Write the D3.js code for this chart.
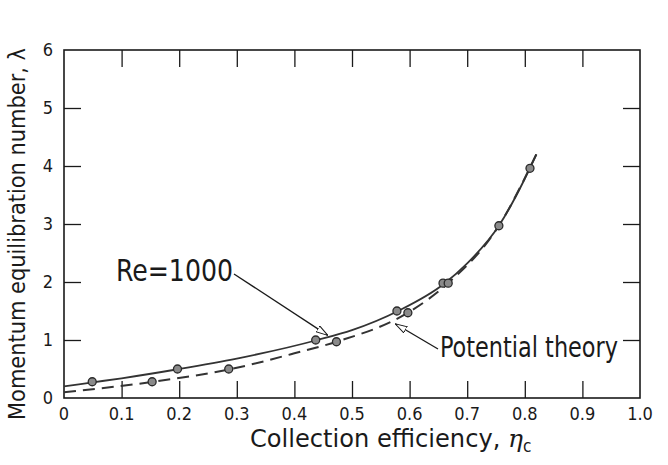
<!DOCTYPE html>
<html><head><meta charset="utf-8">
<script src="https://cdn.jsdelivr.net/npm/d3@7"></script>
<style>html,body{margin:0;padding:0;background:#fff;}svg{display:block;}
text{font-family:"Liberation Sans Narrow","DejaVu Sans Condensed","Liberation Sans",sans-serif;fill:#1a1a1a;}</style>
</head><body>
<svg id="c" width="668" height="465"></svg>
<script>
// ---- data ----
const xTicks = [0,0.1,0.2,0.3,0.4,0.5,0.6,0.7,0.8,0.9,1.0];
const xTickLabels = ["0","0.1","0.2","0.3","0.4","0.5","0.6","0.7","0.8","0.9","1.0"];
const yTicks = [0,1,2,3,4,5,6];
const yTickLabels = ["0","1","2","3","4","5","6"];
// Re = 1000 curve (solid) and its data points
const reCurveX = [0, 0.05, 0.1, 0.2, 0.3, 0.44, 0.5, 0.58, 0.66, 0.7, 0.755, 0.8, 0.82];
const reCurveY = [0.20, 0.27, 0.34, 0.50, 0.68, 1.00, 1.17, 1.50, 1.97, 2.32, 2.97, 3.78, 4.20];
const rePointsX = [0.049, 0.197, 0.437, 0.578, 0.658, 0.755, 0.809];
const rePointsY = [0.28, 0.50, 1.00, 1.50, 1.98, 2.97, 3.96];
// Potential theory curve (dashed) and its data points
const ptCurveX = [0, 0.155, 0.29, 0.4, 0.473, 0.597, 0.667, 0.755, 0.82];
const ptCurveY = [0.10, 0.28, 0.50, 0.77, 0.97, 1.47, 1.98, 2.97, 4.20];
const ptPointsX = [0.153, 0.286, 0.473, 0.597, 0.667];
const ptPointsY = [0.28, 0.50, 0.97, 1.47, 1.98];

const svg = d3.select("#c");
const L = 64, R = 640, T = 50, B = 398;
const x = d3.scaleLinear().domain([0,1]).range([L,R]);
const y = d3.scaleLinear().domain([0,6]).range([B,T]);
const ink = "#1a1a1a";

// frame
svg.append("rect").attr("x",L).attr("y",T).attr("width",R-L).attr("height",B-T)
  .attr("fill","none").attr("stroke",ink).attr("stroke-width",1.6);

// inward ticks via axes
const tl = 17;
svg.append("g").attr("transform",`translate(0,${B})`)
  .call(d3.axisBottom(x).tickValues(xTicks.slice(1,-1)).tickSize(-tl).tickFormat(""))
  .call(g=>g.select(".domain").remove());
svg.append("g").attr("transform",`translate(0,${T})`)
  .call(d3.axisTop(x).tickValues(xTicks.slice(1,-1)).tickSize(-tl).tickFormat(""))
  .call(g=>g.select(".domain").remove());
svg.append("g").attr("transform",`translate(${L},0)`)
  .call(d3.axisLeft(y).tickValues(yTicks.slice(1,-1)).tickSize(-tl).tickFormat(""))
  .call(g=>g.select(".domain").remove());
svg.append("g").attr("transform",`translate(${R},0)`)
  .call(d3.axisRight(y).tickValues(yTicks.slice(1,-1)).tickSize(-tl).tickFormat(""))
  .call(g=>g.select(".domain").remove());
svg.selectAll(".tick line").attr("stroke",ink).attr("stroke-width",1.3);

// tick labels
svg.append("g").selectAll("text").data(xTicks).join("text")
  .attr("x",d=>x(d)).attr("y",B+22).attr("text-anchor","middle")
  .attr("font-size",18).text((d,i)=>xTickLabels[i]);
svg.append("g").selectAll("text").data(yTicks).join("text")
  .attr("x",L-11).attr("y",d=>y(d)+6).attr("text-anchor","end")
  .attr("font-size",18).text((d,i)=>yTickLabels[i]);

// axis titles
const xt = svg.append("text").attr("x",250).attr("y",447).attr("text-anchor","start")
  .attr("font-size",24);
xt.append("tspan").attr("textLength",258).attr("lengthAdjust","spacingAndGlyphs").text("Collection efficiency, ");
xt.append("tspan").attr("font-style","italic").attr("font-family","DejaVu Serif").attr("font-size",25).text("η");
xt.append("tspan").attr("font-size",17).attr("dy",5).text("c");
svg.append("text").attr("transform",`translate(25,${(T+B)/2+10}) rotate(-90)`)
  .attr("text-anchor","middle").attr("font-size",23)
  .attr("textLength",372).attr("lengthAdjust","spacingAndGlyphs")
  .text("Momentum equilibration number, λ");

// curves
const line = d3.line().x(d=>x(d[0])).y(d=>y(d[1])).curve(d3.curveMonotoneX);
svg.append("path").datum(reCurveX.map((v,i)=>[v,reCurveY[i]]))
  .attr("d",line).attr("fill","none").attr("stroke","#333").attr("stroke-width",1.8);
svg.append("path").datum(ptCurveX.map((v,i)=>[v,ptCurveY[i]]))
  .attr("d",line).attr("fill","none").attr("stroke","#333").attr("stroke-width",2)
  .attr("stroke-dasharray","12,7");

// points
const pts = rePointsX.map((v,i)=>[v,rePointsY[i]]).concat(ptPointsX.map((v,i)=>[v,ptPointsY[i]]));
svg.append("g").selectAll("circle").data(pts).join("circle")
  .attr("cx",d=>x(d[0])).attr("cy",d=>y(d[1])).attr("r",4)
  .attr("fill","#8a8a8a").attr("stroke","#2a2a2a").attr("stroke-width",1.3);

// arrow marker
svg.append("defs").append("marker").attr("id","ah").attr("viewBox","0 0 12 8")
  .attr("refX",12).attr("refY",4).attr("markerWidth",12).attr("markerHeight",8)
  .attr("markerUnits","userSpaceOnUse").attr("orient","auto")
  .append("path").attr("d","M0,0.5 L12,4 L0,7.5 Z").attr("fill","#fff").attr("stroke",ink).attr("stroke-width",1);

// annotations
svg.append("text").attr("x",116).attr("y",281).attr("font-size",30)
  .attr("textLength",117).attr("lengthAdjust","spacingAndGlyphs").text("Re=1000");
svg.append("line").attr("x1",234).attr("y1",274).attr("x2",x(0.458)).attr("y2",y(1.08))
  .attr("stroke",ink).attr("stroke-width",1.3).attr("marker-end","url(#ah)");
svg.append("text").attr("x",440).attr("y",357).attr("font-size",29)
  .attr("textLength",178).attr("lengthAdjust","spacingAndGlyphs").text("Potential theory");
svg.append("line").attr("x1",438).attr("y1",349).attr("x2",x(0.575)).attr("y2",y(1.28))
  .attr("stroke",ink).attr("stroke-width",1.3).attr("marker-end","url(#ah)");
</script>
</body></html>
